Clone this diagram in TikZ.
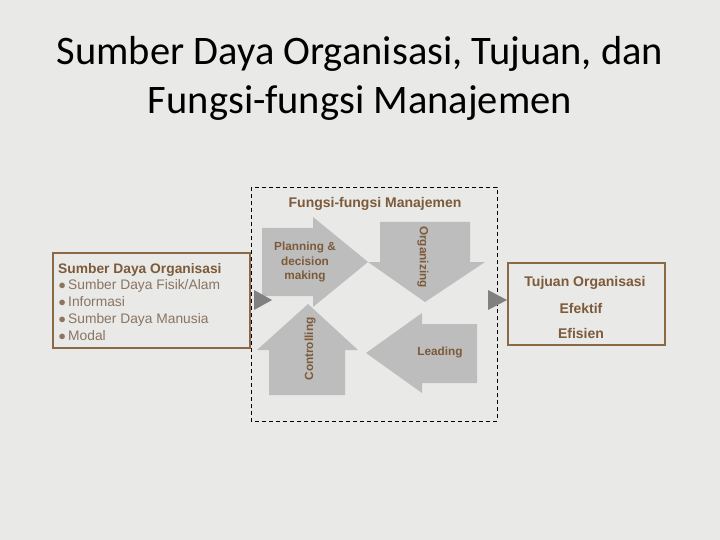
\documentclass[tikz,border=0pt]{standalone}
\usepackage{fontspec}
\setmainfont{Liberation Sans}
\newfontfamily\titlefont{Carlito}
\usetikzlibrary{calc}
\definecolor{bgc}{HTML}{E9E9E7}
\definecolor{brn}{HTML}{7C5A3A}
\definecolor{brnbox}{HTML}{8B6846}
\definecolor{lst}{HTML}{8A7462}
\definecolor{arw}{HTML}{BDBDBD}
\definecolor{tri}{HTML}{808080}
\newcommand{\blt}{\makebox[10pt][l]{\hspace{0.5pt}$\bullet$}}
\tikzset{
  bigarrow/.style={fill=arw, draw=none},
  lbl/.style={text=brn, font=\bfseries\fontsize{11.8}{14.5}\selectfont, align=center, inner sep=0pt},
  biglbl/.style={text=brn, font=\bfseries\fontsize{14}{16}\selectfont, align=center, inner sep=0pt},
  rbox/.style={draw=brnbox, line width=1.6pt},
  tri/.style={fill=tri, draw=none}
}
\begin{document}
\begin{tikzpicture}[x=1pt,y=-1pt]
\useasboundingbox (0,0) rectangle (720,540);
\fill[bgc] (0,0) rectangle (720,540);
% title
\node[font=\titlefont\fontsize{40.5}{49}\selectfont, align=center, text=black] (title) at (360,78)
  {Sumber Daya Organisasi, Tujuan, dan\\Fungsi-fungsi Manajemen};
% dashed frame
\draw[line width=0.9pt, dash pattern=on 4pt off 3pt] (251,187) rectangle (497,421);
\node[biglbl] (fm) at (375,204) {Fungsi-fungsi Manajemen};
% Planning arrow (right)
\fill[bigarrow] (262,228) -- (313,228) -- (313,217) -- (368,262) -- (313,307) -- (313,296) -- (262,296) -- cycle;
% Organizing arrow (down)
\fill[bigarrow] (380,222) -- (470,222) -- (470,262) -- (485,262) -- (425,302) -- (368,262) -- (380,262) -- cycle;
% Leading arrow (left)
\fill[bigarrow] (477,324) -- (477,383) -- (422,383) -- (422,393) -- (366,353) -- (422,313) -- (422,324) -- cycle;
% Controlling arrow (up)
\fill[bigarrow] (269,395) -- (269,350) -- (257,350) -- (308,304) -- (358,350) -- (345,350) -- (345,395) -- cycle;
\node[lbl] (plan) at (305,262) {Planning \&\\decision\\making};
\node[lbl, rotate=-90] (org) at (423,257) {Organizing};
\node[lbl] (lead) at (440,352) {Leading};
\node[lbl, rotate=90] (ctrl) at (310,349) {Controlling};
% left box
\draw[rbox] (53,253) rectangle (250,348);
\node[anchor=base west, inner sep=0pt, align=left, font=\fontsize{13.8}{16.7}\selectfont, text=lst] (src) at (58,340)
  {\textcolor{brn}{\bfseries Sumber Daya Organisasi}\\
   \blt Sumber Daya Fisik/Alam\\
   \blt Informasi\\
   \blt Sumber Daya Manusia\\
   \blt Modal};
% right box
\draw[rbox] (508,263) rectangle (665,345);
\node[biglbl] (goal) at (585,283) {Tujuan Organisasi};
\node[biglbl] (ef1) at (581,308) {Efektif};
\node[biglbl] (ef2) at (581,333) {Efisien};
% small triangles
\fill[tri] (254,290) -- (272,300) -- (254,310) -- cycle;
\fill[tri] (488,290) -- (507,300) -- (488,310) -- cycle;
\end{tikzpicture}
\end{document}
